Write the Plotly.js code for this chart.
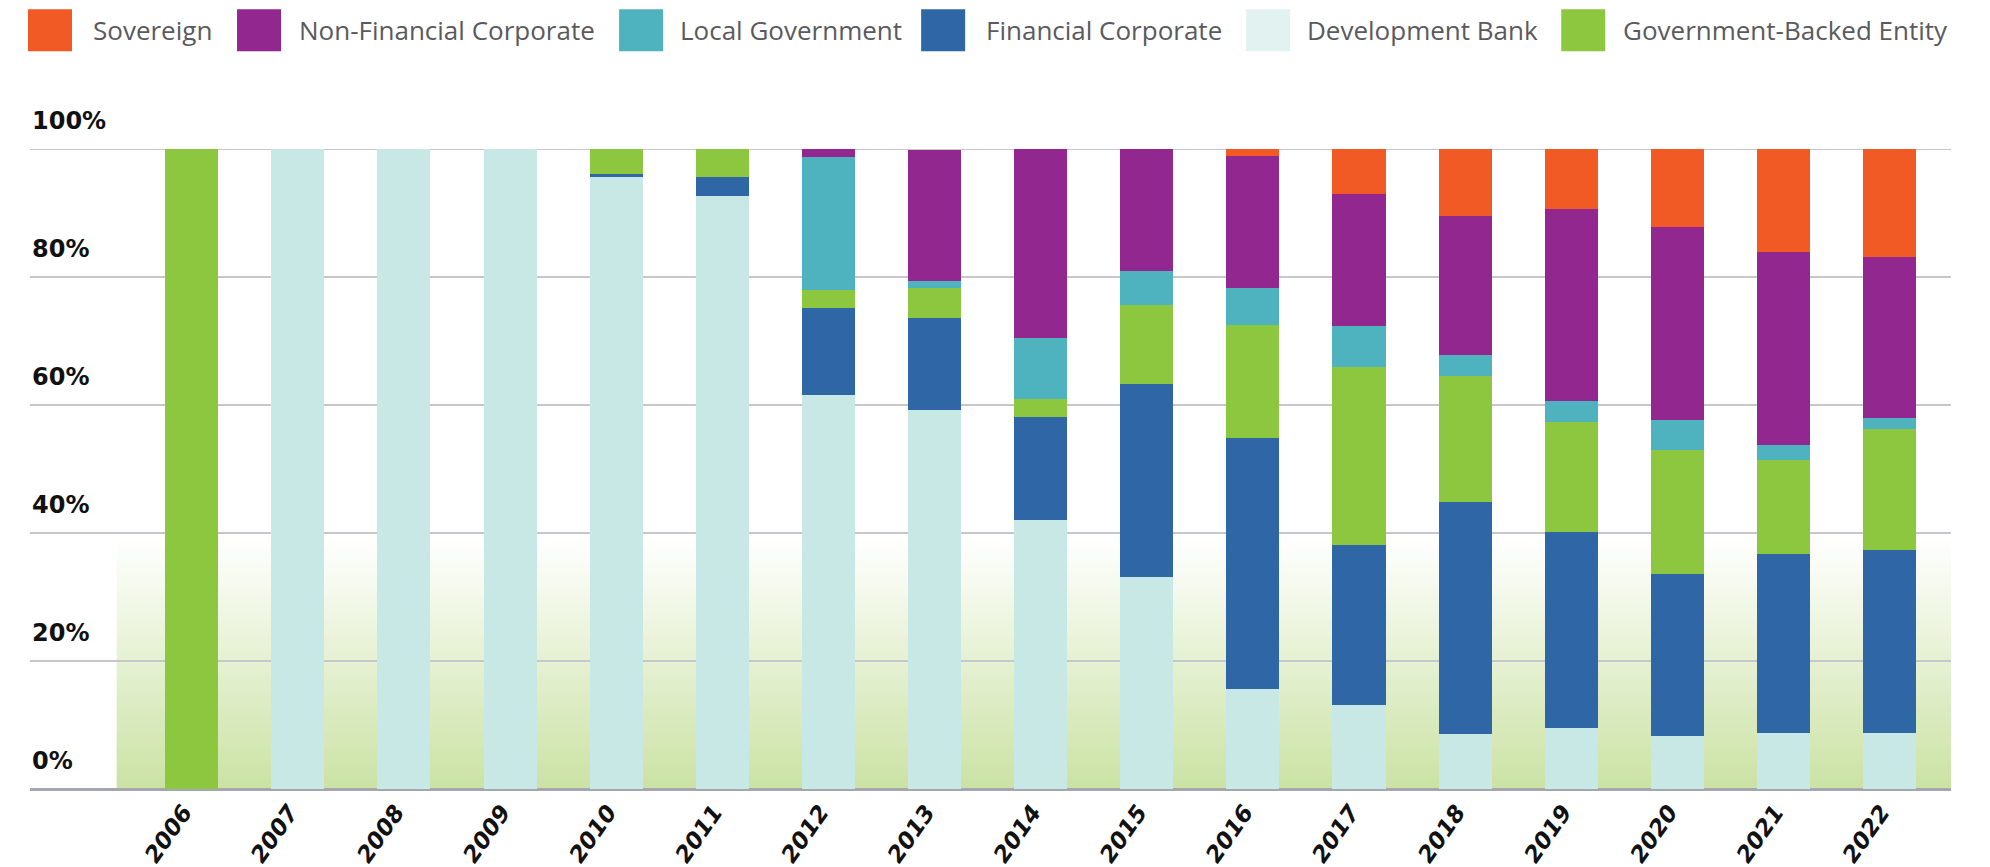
<!DOCTYPE html>
<html>
<head>
<meta charset="utf-8">
<script src="https://cdn.plot.ly/plotly-3.0.1.min.js"></script>
<style>
  html, body { margin: 0; padding: 0; background: #ffffff; }
  #chart { width: 1990px; height: 867px; }
</style>
</head>
<body>
<div id="chart"></div>
<script>
// ---- Data (shares of issuance, %) ----
var years = ['2006','2007','2008','2009','2010','2011','2012','2013','2014','2015','2016','2017','2018','2019','2020','2021','2022'];
var developmentBank    = [0,100,100,100,95.7,92.7,61.6,59.2,42.1,33.2,15.7,13.2,8.6,9.5,8.3,8.8,8.8];
var financialCorporate = [0,0,0,0,0.4,3.0,13.5,14.4,16.1,30.1,39.2,24.9,36.3,30.6,25.3,27.9,28.5];
var governmentBacked   = [100,0,0,0,3.9,4.3,2.8,4.7,2.7,12.3,17.6,27.9,19.6,17.3,19.4,14.7,18.9];
var localGovernment    = [0,0,0,0,0,0,20.9,1.0,9.6,5.3,5.8,6.4,3.3,3.3,4.6,2.3,1.8];
var nonFinancialCorp   = [0,0,0,0,0,0,1.2,20.6,29.5,19.1,20.6,20.6,21.7,30.0,30.2,30.2,25.2];
var sovereign          = [0,0,0,0,0,0,0,0,0,0,1.1,7.0,10.5,9.3,12.2,16.1,16.8];

var yTickVals = [0,20,40,60,80,100];
var yTickText = ['0%','20%','40%','60%','80%','100%'];

var legendNames = ['Sovereign','Non-Financial Corporate','Local Government','Financial Corporate','Development Bank','Government-Backed Entity'];

// ---- Styling ----
var colors = {
  'Sovereign': '#f15a24',
  'Non-Financial Corporate': '#92278f',
  'Local Government': '#4fb3bf',
  'Financial Corporate': '#2f67a6',
  'Development Bank': '#c8e8e6',
  'Government-Backed Entity': '#8dc63f'
};
var legendSwatchColors = {
  'Sovereign': '#f15a24',
  'Non-Financial Corporate': '#92278f',
  'Local Government': '#4fb3bf',
  'Financial Corporate': '#2f67a6',
  'Development Bank': '#e1f2f1',
  'Government-Backed Entity': '#8dc63f'
};

// stacking order bottom -> top
var stack = [
  ['Development Bank', developmentBank],
  ['Financial Corporate', financialCorporate],
  ['Government-Backed Entity', governmentBacked],
  ['Local Government', localGovernment],
  ['Non-Financial Corporate', nonFinancialCorp],
  ['Sovereign', sovereign]
];

var traces = stack.map(function (s) {
  return {
    type: 'bar',
    name: s[0],
    x: years,
    y: s[1],
    marker: { color: colors[s[0]], line: { width: 0 } },
    showlegend: false,
    hovertemplate: '%{x}: %{y:.1f}%<extra>' + s[0] + '</extra>'
  };
});

// ---- Geometry (pixels) ----
var W = 1990, H = 867;
var mL = 30, mR = 39.3, mT = 148.7, mB = 78.3;
var plotW = W - mL - mR, plotH = H - mT - mB;
var xr0 = -1.524, xr1 = 16.579;
function px2paperX(px) { return (px - mL) / plotW; }
function py2paperY(py) { return (H - mB - py) / plotH; }

var shapes = [];
// background green gradient band (0% .. ~39%)
var nStrips = 60, gTop = 39.2;
var cBot = [203, 226, 164], cTop = [255, 255, 255];
for (var i = 0; i < nStrips; i++) {
  var t = (i + 0.5) / nStrips;
  var r = Math.round(cBot[0] + (cTop[0] - cBot[0]) * t);
  var g = Math.round(cBot[1] + (cTop[1] - cBot[1]) * t);
  var b = Math.round(cBot[2] + (cTop[2] - cBot[2]) * t);
  shapes.push({
    type: 'rect', layer: 'below', xref: 'x', yref: 'y',
    x0: -0.707, x1: xr1,
    y0: gTop * i / nStrips, y1: gTop * (i + 1) / nStrips + 0.15,
    fillcolor: 'rgb(' + r + ',' + g + ',' + b + ')',
    line: { width: 0 }
  });
}
// top (100%) gridline, which the axis does not draw at the range edge
shapes.push({
  type: 'line', layer: 'below', xref: 'paper', yref: 'y',
  x0: 0, x1: 1, y0: 100, y1: 100,
  line: { color: '#c6c6cd', width: 2 }
});

// custom legend (large square swatches)
var legendSwatchX = [28, 237, 619, 921, 1246, 1561];
var legendTextX   = [91, 297, 678, 984, 1305, 1621];
var annotations = [];
legendNames.forEach(function (n, k) {
  shapes.push({
    type: 'rect', xref: 'paper', yref: 'paper',
    x0: px2paperX(legendSwatchX[k]), x1: px2paperX(legendSwatchX[k] + 44),
    y0: py2paperY(51), y1: py2paperY(9),
    fillcolor: legendSwatchColors[n], line: { width: 0 }
  });
  annotations.push({
    xref: 'paper', yref: 'paper',
    x: px2paperX(legendTextX[k]), y: py2paperY(30),
    xanchor: 'left', yanchor: 'middle',
    text: n, showarrow: false,
    font: { family: 'Open Sans, sans-serif', size: 26, color: '#5a5a5e' }
  });
});

// y tick labels, drawn above each gridline at the left
yTickVals.forEach(function (v, k) {
  annotations.push({
    xref: 'paper', yref: 'y',
    x: 0, y: v, xshift: 0, yshift: 12,
    xanchor: 'left', yanchor: 'bottom',
    text: '<b>' + yTickText[k] + '</b>', showarrow: false,
    font: { family: 'DejaVu Sans, sans-serif', size: 24, color: '#111111' }
  });
});

var layout = {
  width: W, height: H,
  margin: { l: mL, r: mR, t: mT, b: mB, pad: 0 },
  paper_bgcolor: '#ffffff',
  plot_bgcolor: 'rgba(0,0,0,0)',
  barmode: 'stack',
  bargap: 0.5,
  showlegend: false,
  xaxis: {
    type: 'category',
    range: [xr0, xr1],
    showgrid: false,
    zeroline: false,
    showline: false,
    ticks: '',
    tickangle: -55,
    ticklabelshift: -8,
    ticklabelstandoff: 4,
    tickfont: { family: 'DejaVu Sans, sans-serif', size: 23, color: '#111111', weight: 'bold', style: 'italic' },
    fixedrange: true
  },
  yaxis: {
    range: [0, 100],
    tickvals: yTickVals,
    ticktext: yTickText,
    showticklabels: false,
    showgrid: true,
    gridcolor: '#c6c6cd',
    gridwidth: 2,
    zeroline: true,
    zerolinecolor: '#a6a6ae',
    zerolinewidth: 3,
    ticks: '',
    fixedrange: true
  },
  shapes: shapes,
  annotations: annotations
};

Plotly.newPlot('chart', traces, layout, { displayModeBar: false, staticPlot: true });
</script>
</body>
</html>
